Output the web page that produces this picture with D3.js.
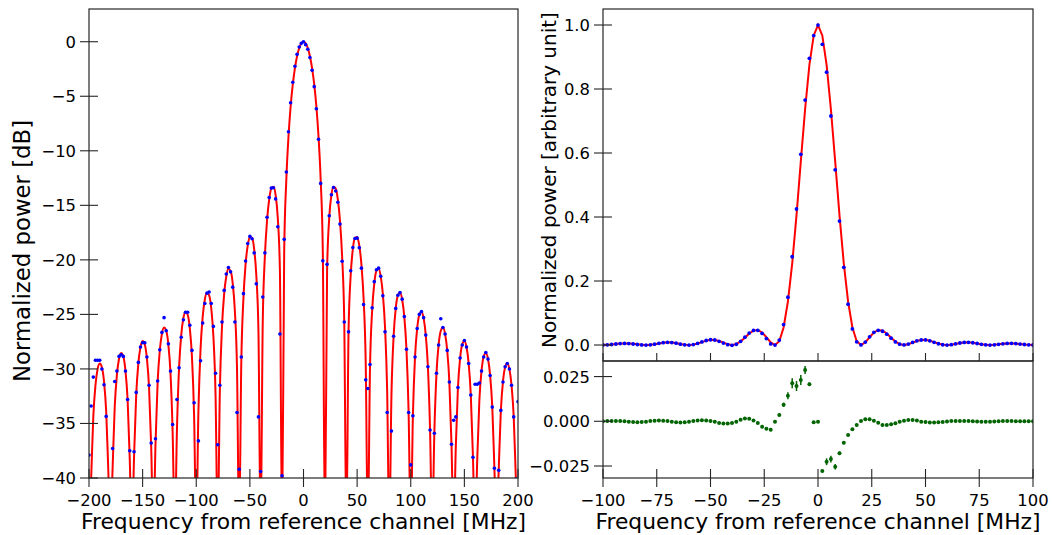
<!DOCTYPE html>
<html>
<head>
<meta charset="utf-8">
<script src="https://cdn.jsdelivr.net/npm/d3@7"></script>
<style>
body { margin: 0; background: #fff; }
svg { display: block; font-family: "DejaVu Sans", sans-serif; }
</style>
</head>
<body>
<script>
// ---- left panel: power in dB, +-200 MHz ----
const leftFreq = [
  -200,-198,-196,-194,-192,-190,-188,-186,-184,-182,
  -180,-178,-176,-174,-172,-170,-168,-166,-164,-162,
  -160,-158,-156,-154,-152,-150,-148,-146,-144,-142,
  -140,-138,-136,-134,-132,-130,-128,-126,-124,-122,
  -120,-118,-116,-114,-112,-110,-108,-106,-104,-102,
  -100,-98,-96,-94,-92,-90,-88,-86,-84,-82,
  -80,-78,-76,-74,-72,-70,-68,-66,-64,-62,
  -60,-58,-56,-54,-52,-50,-48,-46,-44,-42,
  -40,-38,-36,-34,-32,-30,-28,-26,-24,-22,
  -20,-18,-16,-14,-12,-10,-8,-6,-4,-2,
  0,
  2,4,6,8,10,12,14,16,18,20,
  22,24,26,28,30,32,34,36,38,40,
  42,44,46,48,50,52,54,56,58,60,
  62,64,66,68,70,72,74,76,78,80,
  82,84,86,88,90,92,94,96,98,100,
  102,104,106,108,110,112,114,116,118,120,
  122,124,126,128,130,132,134,136,138,140,
  142,144,146,148,150,152,154,156,158,160,
  162,164,166,168,170,172,174,176,178,180,
  182,184,186,188,190,192,194,196,198,200
];

// fitted model (red), dB; nulls sit below the axis
const leftModelDb = [
  -45,-40.06,-34.38,-31.52,-30.02,-29.50,-29.84,-31.15,-33.83,-39.32,
  -45,-39.13,-33.45,-30.57,-29.07,-28.53,-28.86,-30.17,-32.83,-38.31,
  -45,-38.10,-32.40,-29.51,-28.00,-27.44,-27.76,-29.05,-31.71,-37.17,
  -45,-36.92,-31.21,-28.31,-26.77,-26.20,-26.50,-27.77,-30.41,-35.85,
  -45,-35.56,-29.83,-26.90,-25.34,-24.75,-25.03,-26.27,-28.88,-34.30,
  -45,-33.95,-28.18,-25.23,-23.63,-23.01,-23.25,-24.45,-27.02,-32.40,
  -45,-31.97,-26.15,-23.15,-21.51,-20.82,-21.01,-22.15,-24.66,-29.97,
  -45,-29.39,-23.50,-20.41,-18.68,-17.90,-17.98,-19.02,-21.41,-26.59,
  -45,-25.72,-19.66,-16.39,-14.46,-13.46,-13.30,-14.06,-16.14,-20.97,
  -45,-19.23,-12.62,-8.69,-5.94,-3.92,-2.42,-1.33,-0.58,-0.14,
  0,
  -0.14,-0.58,-1.33,-2.42,-3.92,-5.94,-8.69,-12.62,-19.23,-45,
  -20.97,-16.14,-14.06,-13.30,-13.46,-14.46,-16.39,-19.66,-25.72,-45,
  -26.59,-21.41,-19.02,-17.98,-17.90,-18.68,-20.41,-23.50,-29.39,-45,
  -29.97,-24.66,-22.15,-21.01,-20.82,-21.51,-23.15,-26.15,-31.97,-45,
  -32.40,-27.02,-24.45,-23.25,-23.01,-23.63,-25.23,-28.18,-33.95,-45,
  -34.30,-28.88,-26.27,-25.03,-24.75,-25.34,-26.90,-29.83,-35.56,-45,
  -35.85,-30.41,-27.77,-26.50,-26.20,-26.77,-28.31,-31.21,-36.92,-45,
  -37.17,-31.71,-29.05,-27.76,-27.44,-28.00,-29.51,-32.40,-38.10,-45,
  -38.31,-32.83,-30.17,-28.86,-28.53,-29.07,-30.57,-33.45,-39.13,-45,
  -39.32,-33.83,-31.15,-29.84,-29.50,-30.02,-31.52,-34.38,-40.06,-45
];

// measured points (blue), dB
const leftDataDb = [
  -37.9,-33.4,-30.75,-29.2,-29.2,-29.2,-30.0,-31.45,-34.35,-40.5,
  -45,-37.3,-31.15,-30.2,-28.85,-28.7,-28.85,-30.2,-32.8,-37.5,
  -45,-37.6,-32.15,-29.4,-28.0,-27.6,-27.6,-28.9,-31.5,-36.8,
  -45,-36.4,-31.1,-28.25,-26.65,-25.3,-26.5,-27.7,-30.2,-35.1,
  -45,-32.8,-29.9,-27.1,-25.5,-24.8,-24.8,-26.0,-28.3,-33.1,
  -45,-36.6,-29.25,-25.8,-24.0,-23.05,-22.95,-24.0,-26.1,-30.4,
  -36.95,-31.5,-25.7,-22.8,-21.3,-20.7,-21.1,-22.5,-25.7,-34.0,
  -39.2,-28.9,-23.1,-20.1,-18.5,-17.85,-18.07,-19.36,-22.2,-34.4,
  -39.4,-23.4,-19.36,-16.09,-14.29,-13.42,-13.39,-14.41,-16.97,-26.8,
  -39.8,-18.12,-11.94,-8.25,-5.59,-3.72,-2.25,-1.16,-0.48,-0.15,
  0.0,
  -0.27,-0.69,-1.45,-2.62,-4.12,-6.15,-8.94,-12.99,-20.09,-45,
  -20.41,-15.95,-14.03,-13.37,-13.68,-14.72,-16.72,-20.13,-25.7,-45,
  -26.6,-21.0,-18.86,-18.04,-18.01,-18.89,-20.76,-24.1,-31.0,-31.8,
  -29.6,-24.4,-22.0,-20.9,-20.76,-21.5,-23.3,-26.6,-34.0,-45,
  -35.7,-27.0,-24.45,-23.25,-23.0,-23.6,-25.2,-28.2,-34.0,-38.8,
  -34.3,-28.9,-26.3,-25.0,-24.75,-25.3,-26.9,-29.8,-35.6,-45,
  -35.9,-30.4,-27.8,-25.4,-26.2,-26.8,-28.3,-31.2,-36.9,-34.7,
  -34.4,-31.7,-29.0,-27.8,-27.4,-28.0,-29.5,-32.4,-38.1,-31.4,
  -31.4,-31.3,-30.2,-28.9,-28.5,-29.1,-30.6,-33.5,-39.1,-45,
  -39.3,-33.8,-31.2,-29.8,-29.5,-30.0,-31.5,-34.4,-40.1,-33.0
];

// ---- right panels: linear power and residuals, +-100 MHz ----
const rightFreq = [
  -100,-98,-96,-94,-92,-90,-88,-86,-84,-82,
  -80,-78,-76,-74,-72,-70,-68,-66,-64,-62,
  -60,-58,-56,-54,-52,-50,-48,-46,-44,-42,
  -40,-38,-36,-34,-32,-30,-28,-26,-24,-22,
  -20,-18,-16,-14,-12,-10,-8,-6,-4,-2,
  0,
  2,4,6,8,10,12,14,16,18,20,
  22,24,26,28,30,32,34,36,38,40,
  42,44,46,48,50,52,54,56,58,60,
  62,64,66,68,70,72,74,76,78,80,
  82,84,86,88,90,92,94,96,98,100
];

const rightModel = [
  0,0.00040,0.00152,0.00300,0.00433,0.00500,0.00473,0.00359,0.00198,0.00058,
  0,0.00064,0.00242,0.00484,0.00707,0.00827,0.00793,0.00609,0.00342,0.00101,
  0,0.00115,0.00447,0.00910,0.01356,0.01621,0.01592,0.01253,0.00723,0.00219,
  0,0.00268,0.01080,0.02295,0.03580,0.04503,0.04676,0.03924,0.02432,0.00800,
  0,0.01194,0.0547,0.1353,0.2546,0.4053,0.5729,0.7368,0.8751,0.9675,
  1,
  0.9675,0.8751,0.7368,0.5729,0.4053,0.2546,0.1353,0.0547,0.01194,0,
  0.00800,0.02432,0.03924,0.04676,0.04503,0.03580,0.02295,0.01080,0.00268,0,
  0.00219,0.00723,0.01253,0.01592,0.01621,0.01356,0.00910,0.00447,0.00115,0,
  0.00101,0.00342,0.00609,0.00793,0.00827,0.00707,0.00484,0.00242,0.00064,0,
  0.00058,0.00198,0.00359,0.00473,0.00500,0.00433,0.00300,0.00152,0.00040,0
];

const rightData = [
  0.0000,0.0005,0.0016,0.0031,0.0044,0.0050,0.0045,0.0032,0.0015,0.0002,
  -0.0002,0.0007,0.0027,0.0052,0.0074,0.0085,0.0077,0.0056,0.0027,0.0004,
  -0.0003,0.0013,0.0049,0.0097,0.0141,0.0164,0.0156,0.0116,0.0060,0.0009,
  -0.0010,0.0024,0.0116,0.0246,0.0372,0.0455,0.0458,0.0362,0.0201,0.0033,
  -0.0002,0.0154,0.0639,0.1496,0.2758,0.4250,0.5960,0.7655,0.8958,0.9669,
  0.9998,
  0.9397,0.8525,0.7157,0.5475,0.3874,0.2426,0.1276,0.0502,0.0098,0.0002,
  0.0091,0.0254,0.0395,0.0460,0.0429,0.0337,0.0213,0.0097,0.0025,0.0003,
  0.0029,0.0079,0.0130,0.0157,0.0158,0.0129,0.0084,0.0039,0.0008,-0.0001,
  0.0011,0.0036,0.0063,0.0081,0.0084,0.0071,0.0047,0.0022,0.0004,-0.0002,
  0.0005,0.0020,0.0037,0.0048,0.0051,0.0043,0.0030,0.0015,0.0004,0.0000
];

const residual = [
  0.0000,0.0001,0.0001,0.0001,0.0001,0.0000,-0.0002,-0.0004,-0.0005,-0.0004,
  -0.0002,0.0001,0.0003,0.0004,0.0003,0.0002,-0.0002,-0.0005,-0.0007,-0.0006,
  -0.0003,0.0001,0.0004,0.0006,0.0005,0.0002,-0.0003,-0.0009,-0.0012,-0.0013,
  -0.0010,-0.0003,0.0008,0.0016,0.0014,0.0005,-0.0010,-0.0030,-0.0042,-0.0047,
  -0.0002,0.0035,0.0092,0.0143,0.0212,0.0197,0.0231,0.0287,0.0207,-0.0006,
  -0.0002,
  -0.0278,-0.0226,-0.0211,-0.0254,-0.0179,-0.0120,-0.0077,-0.0045,-0.0021,0.0002,
  0.0011,0.0011,0.0003,-0.0008,-0.0021,-0.0021,-0.0017,-0.0011,-0.0002,0.0003,
  0.0007,0.0007,0.0005,-0.0002,-0.0004,-0.0007,-0.0007,-0.0006,-0.0004,-0.0001,
  0.0001,0.0002,0.0002,0.0002,0.0001,0.0000,-0.0001,-0.0002,-0.0002,-0.0002,
  -0.0001,0.0000,0.0001,0.0001,0.0001,0.0000,0.0000,0.0000,0.0000,0.0000
];

const residualErr = [
  0.0003,0.0003,0.0003,0.0003,0.0003,0.0003,0.0003,0.0003,0.0003,0.0003,
  0.0003,0.0003,0.0003,0.0003,0.0003,0.0003,0.0003,0.0003,0.0003,0.0003,
  0.0003,0.0003,0.0003,0.0003,0.0003,0.0003,0.0003,0.0003,0.0003,0.0003,
  0.0003,0.0003,0.0003,0.0003,0.0003,0.0003,0.0003,0.0003,0.0003,0.0003,
  0.0003,0.0006,0.0012,0.0020,0.0028,0.0028,0.0028,0.0022,0.0010,0.0005,
  0.0005,
  0.0008,0.0019,0.0019,0.0015,0.0010,0.0008,0.0005,0.0004,0.0003,0.0003,
  0.0003,0.0003,0.0003,0.0003,0.0003,0.0003,0.0003,0.0003,0.0003,0.0003,
  0.0003,0.0003,0.0003,0.0003,0.0003,0.0003,0.0003,0.0003,0.0003,0.0003,
  0.0003,0.0003,0.0003,0.0003,0.0003,0.0003,0.0003,0.0003,0.0003,0.0003,
  0.0003,0.0003,0.0003,0.0003,0.0003,0.0003,0.0003,0.0003,0.0003,0.0003
];

// ticks
const leftXTicks = [-200, -150, -100, -50, 0, 50, 100, 150, 200];
const leftYTicks = [0, -5, -10, -15, -20, -25, -30, -35, -40];
const rightXTicks = [-100, -75, -50, -25, 0, 25, 50, 75, 100];
const topYTicks = [0.0, 0.2, 0.4, 0.6, 0.8, 1.0];
const resYTicks = [0.025, 0.0, -0.025];

const xLabelText = "Frequency from reference channel [MHz]";

window.onload = main;

const W = 1052;
const H = 535;
const tickFont = 16.4;
const tickLen = 9;
const spineColor = "#262626";

function main() {
    const svg = d3.select("body").append("svg")
        .attr("width", W)
        .attr("height", H);

    const defs = svg.append("defs");
    const boxes = {
        left: {x0: 89, x1: 518, y0: 9, y1: 478},
        top: {x0: 603, x1: 1033, y0: 9, y1: 361},
        bot: {x0: 603, x1: 1033, y0: 361, y1: 478}
    };
    Object.entries(boxes).forEach(([k, b]) => {
        defs.append("clipPath").attr("id", "clip-" + k)
            .append("rect")
            .attr("x", b.x0).attr("y", b.y0)
            .attr("width", b.x1 - b.x0).attr("height", b.y1 - b.y0);
    });

    drawLeft(svg, boxes.left);
    drawTop(svg, boxes.top);
    drawBottom(svg, boxes.bot);
}

function frame(svg, b) {
    svg.append("rect")
        .attr("x", b.x0).attr("y", b.y0)
        .attr("width", b.x1 - b.x0).attr("height", b.y1 - b.y0)
        .attr("fill", "none")
        .attr("stroke", spineColor)
        .attr("stroke-width", 1.2);
}

function yTicks(svg, scale, x, values, fmt) {
    const g = svg.append("g");
    values.forEach(v => {
        const y = scale(v);
        g.append("line")
            .attr("x1", x - tickLen).attr("x2", x + tickLen)
            .attr("y1", y).attr("y2", y)
            .attr("stroke", spineColor).attr("stroke-width", 1.1);
        g.append("text")
            .attr("x", x - tickLen - 4)
            .attr("y", y + 6)
            .attr("text-anchor", "end")
            .attr("font-size", tickFont)
            .text(fmt(v));
    });
}

function xTicks(svg, scale, y, values, fmt, up, down) {
    const g = svg.append("g");
    values.forEach(v => {
        const x = scale(v);
        g.append("line")
            .attr("x1", x).attr("x2", x)
            .attr("y1", y - up).attr("y2", y + down)
            .attr("stroke", spineColor).attr("stroke-width", 1.1);
        if (fmt) {
            g.append("text")
                .attr("x", x)
                .attr("y", y + 28)
                .attr("text-anchor", "middle")
                .attr("font-size", tickFont)
                .text(fmt(v));
        }
    });
}

function drawLeft(svg, b) {
    const x = d3.scaleLinear().domain([-200, 200]).range([b.x0, b.x1]);
    const y = d3.scaleLinear().domain([-40, 3]).range([b.y1, b.y0]);

    const model = leftFreq.map((f, i) => ({f: f, v: leftModelDb[i]}));
    const pts = leftFreq.map((f, i) => ({f: f, v: leftDataDb[i]}));

    const g = svg.append("g").attr("clip-path", "url(#clip-left)");
    g.append("path")
        .datum(model)
        .attr("d", d3.line().x(d => x(d.f)).y(d => y(d.v)).curve(d3.curveMonotoneX))
        .attr("fill", "none")
        .attr("stroke", "#ff0000")
        .attr("stroke-width", 2);
    g.selectAll(null)
        .data(pts)
        .join("circle")
        .attr("cx", d => x(d.f))
        .attr("cy", d => y(d.v))
        .attr("r", 1.8)
        .attr("fill", "#0000ff");

    frame(svg, b);
    const fmt = d3.format("d");
    yTicks(svg, y, b.x0, leftYTicks, fmt);
    xTicks(svg, x, b.y1, leftXTicks, fmt, tickLen, tickLen);

    svg.append("text")
        .attr("x", (b.x0 + b.x1) / 2).attr("y", 529)
        .attr("text-anchor", "middle")
        .attr("font-size", 21.8)
        .text(xLabelText);
    svg.append("text")
        .attr("transform", "translate(30, 251) rotate(-90)")
        .attr("text-anchor", "middle")
        .attr("font-size", 22.8)
        .text("Normalized power [dB]");
}

function drawTop(svg, b) {
    const x = d3.scaleLinear().domain([-100, 100]).range([b.x0, b.x1]);
    const y = d3.scaleLinear().domain([-0.05, 1.05]).range([b.y1, b.y0]);

    const model = rightFreq.map((f, i) => ({f: f, v: rightModel[i]}));
    const pts = rightFreq.map((f, i) => ({f: f, v: rightData[i]}));

    const g = svg.append("g").attr("clip-path", "url(#clip-top)");
    g.append("path")
        .datum(model)
        .attr("d", d3.line().x(d => x(d.f)).y(d => y(d.v)))
        .attr("fill", "none")
        .attr("stroke", "#ff0000")
        .attr("stroke-width", 2);
    g.selectAll(null)
        .data(pts)
        .join("circle")
        .attr("cx", d => x(d.f))
        .attr("cy", d => y(d.v))
        .attr("r", 1.9)
        .attr("fill", "#0000ff");

    frame(svg, b);
    yTicks(svg, y, b.x0, topYTicks, d3.format(".1f"));
    xTicks(svg, x, b.y1, rightXTicks, null, 8, 0);

    svg.append("text")
        .attr("transform", "translate(556, 180) rotate(-90)")
        .attr("text-anchor", "middle")
        .attr("font-size", 20)
        .text("Normalized power [arbitrary unit]");
}

function drawBottom(svg, b) {
    const x = d3.scaleLinear().domain([-100, 100]).range([b.x0, b.x1]);
    const y = d3.scaleLinear().domain([-0.0317, 0.0337]).range([b.y1, b.y0]);

    const pts = rightFreq.map((f, i) => ({f: f, v: residual[i], e: residualErr[i]}));

    const g = svg.append("g").attr("clip-path", "url(#clip-bot)");
    g.selectAll(null)
        .data(pts)
        .join("line")
        .attr("x1", d => x(d.f)).attr("x2", d => x(d.f))
        .attr("y1", d => y(d.v - d.e)).attr("y2", d => y(d.v + d.e))
        .attr("stroke", "#006400")
        .attr("stroke-width", 1.5);
    g.selectAll(null)
        .data(pts)
        .join("circle")
        .attr("cx", d => x(d.f))
        .attr("cy", d => y(d.v))
        .attr("r", 2)
        .attr("fill", "#006400");

    frame(svg, b);
    yTicks(svg, y, b.x0, resYTicks, d3.format(".3f"));
    xTicks(svg, x, b.y1, rightXTicks, d3.format("d"), tickLen, tickLen);

    svg.append("text")
        .attr("x", (b.x0 + b.x1) / 2).attr("y", 529)
        .attr("text-anchor", "middle")
        .attr("font-size", 21.8)
        .text(xLabelText);
}
</script>
</body>
</html>
